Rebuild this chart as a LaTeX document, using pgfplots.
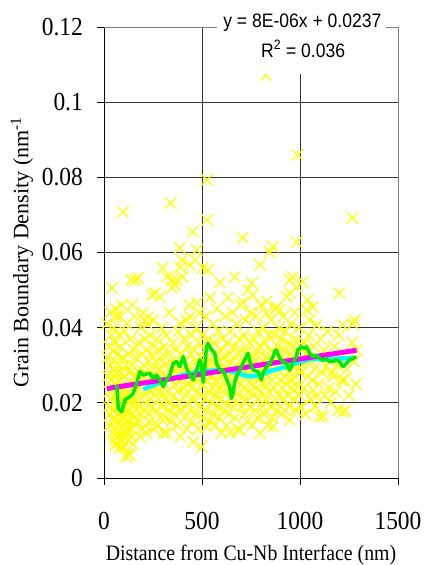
\documentclass[border=0pt]{standalone}
\usepackage{graphicx}
\usepackage{pgfplots}
\pgfplotsset{compat=1.18}
\usepackage{fontspec}
\setmainfont{Liberation Serif}[FakeStretch=0.9]
\newfontfamily\ylabfont{Liberation Serif}
\newfontfamily\eqfont{Liberation Sans}[FakeStretch=0.9]
\definecolor{ptyellow}{RGB}{255,255,0}
\definecolor{ptmag}{RGB}{255,0,255}
\definecolor{ptcyan}{RGB}{0,255,255}
\definecolor{ptgreen}{RGB}{0,235,0}
\begin{document}
\begin{tikzpicture}
\begin{axis}[
  at={(0pt,0pt)}, anchor=south west,
  scale only axis, width=294pt, height=451pt,
  xmin=0, xmax=1500, ymin=0, ymax=0.12,
  xtick={0,500,1000,1500},
  ytick={0,0.02,0.04,0.06,0.08,0.1,0.12},
  axis lines*=left,
  axis line style={black, line width=0.9pt},
  tick align=outside, major tick length=7pt,
  tick style={black, line width=0.9pt},
  grid=major, grid style={black!80, line width=0.9pt},
  scaled y ticks=false,
  /pgf/number format/assume math mode=true,
  /pgf/number format/1000 sep={},
  yticklabel style={/pgf/number format/fixed, /pgf/number format/precision=2, inner sep=0pt, anchor=east, xshift=-14pt},
  xticklabel style={inner sep=0pt, anchor=north, yshift=-27pt},
  ticklabel style={font=\fontsize{26}{26}\selectfont},
  xlabel={Distance from Cu-Nb Interface (nm)},
  xlabel style={font=\fontsize{22}{22}\selectfont, at={(axis description cs:0.5,-0.1840)}, anchor=base, inner sep=0pt},
  ylabel={Grain Boundary Density (nm\textsuperscript{-1}},
  ylabel style={font=\ylabfont\fontsize{22}{22}\selectfont, at={(axis description cs:-0.279,0.5)}, anchor=center, inner sep=0pt},
  clip=false,
  clip marker paths=true,
]
\draw[black!50, line width=0.9pt] (rel axis cs:0,1) -- (rel axis cs:1,1) -- (rel axis cs:1,0);
\addplot[only marks, mark=x, mark size=8pt, mark options={draw=ptyellow, line width=1.25pt}] coordinates {
(15,0.041) (18,0.032) (20,0.027) (22,0.019) (25,0.035) (27,0.023) (28,0.014) (30,0.030) (32,0.044) (33,0.017)
(35,0.026) (37,0.038) (38,0.021) (40,0.0506) (42,0.012) (43,0.029) (45,0.034) (47,0.024) (48,0.016) (50,0.040)
(52,0.027) (53,0.010) (55,0.031) (56,0.0088) (57,0.020) (58,0.036) (60,0.045)
(44,0.018) (51,0.022) (59,0.015) (61,0.025) (67,0.012) (72,0.020) (78,0.024) (84,0.010) (93,0.016) (99,0.019)
(102,0.011) (108,0.024) (113,0.015) (119,0.021) (125,0.010) (131,0.018) (137,0.013) (144,0.021) (152,0.016) (160,0.023)
(62,0.013) (63,0.028) (65,0.043) (66,0.009) (68,0.022) (70,0.033) (71,0.017) (73,0.026) (74,0.011) (76,0.038)
(77,0.019) (79,0.030) (80,0.008) (82,0.0428) (83,0.015) (85,0.035) (86,0.021) (88,0.012) (89,0.028) (91,0.046)
(92,0.018) (94,0.010) (95,0.032) (97,0.0708) (98,0.023) (100,0.0083) (101,0.014) (103,0.027) (104,0.039) (106,0.016)
(107,0.021) (109,0.012) (110,0.030)
(112,0.0056) (114,0.018) (116,0.025) (118,0.041) (120,0.013) (122,0.0065) (124,0.033) (126,0.020) (128,0.015) (130,0.028)
(132,0.0061) (134,0.037) (136,0.022) (138,0.0527) (139,0.011) (141,0.030) (143,0.046) (145,0.017) (147,0.024) (149,0.009)
(151,0.034) (153,0.019) (155,0.043) (157,0.027) (158,0.0527) (159,0.014)
(162,0.021) (165,0.032) (168,0.015) (170,0.027) (173,0.0532) (175,0.019) (178,0.036) (180,0.024) (182,0.011) (185,0.029)
(187,0.040) (189,0.017) (192,0.026) (194,0.033) (196,0.013) (199,0.0439) (201,0.022) (203,0.030) (205,0.018) (207,0.037)
(209,0.042) (210,0.014)
(212,0.028) (214,0.020) (216,0.034) (218,0.012) (220,0.026) (222,0.041) (224,0.0428) (226,0.017) (228,0.031) (230,0.023)
(233,0.038) (235,0.015) (237,0.027) (240,0.021) (242,0.033) (245,0.0487) (247,0.019) (249,0.029) (250,0.042) (252,0.024)
(255,0.013) (257,0.035) (259,0.022)
(260,0.0492) (262,0.027) (264,0.018) (267,0.031) (269,0.024) (271,0.037) (273,0.014) (276,0.029) (278,0.021) (280,0.034)
(283,0.026) (285,0.0482) (287,0.016) (290,0.032) (292,0.023) (294,0.040) (297,0.019) (300,0.0559) (302,0.028) (304,0.012)
(306,0.035) (308,0.025)
(311,0.021) (313,0.030) (315,0.016) (318,0.038) (320,0.012) (321,0.0535) (323,0.027) (326,0.023) (328,0.033) (330,0.018)
(333,0.044) (335,0.026) (337,0.020) (339,0.031) (341,0.0731) (343,0.015) (346,0.0527) (347,0.0506) (349,0.028) (352,0.036)
(354,0.022) (357,0.030) (359,0.017)
(362,0.0514) (364,0.025) (366,0.019) (368,0.034) (370,0.028) (372,0.0527) (374,0.014) (377,0.023) (379,0.039) (381,0.030)
(384,0.020) (387,0.0612) (388,0.0561) (389,0.0412) (390,0.011) (392,0.026) (395,0.033) (397,0.058) (399,0.018) (402,0.0535)
(404,0.029) (406,0.024) (408,0.037)
(411,0.016) (413,0.031) (416,0.022) (418,0.042) (420,0.027) (423,0.013) (425,0.035) (427,0.020) (430,0.030) (432,0.025)
(435,0.046) (438,0.0567) (439,0.0428) (441,0.018) (443,0.033) (446,0.024) (448,0.038) (450,0.015) (453,0.0655) (455,0.0096)
(457,0.028) (459,0.021)
(462,0.034) (464,0.058) (466,0.026) (468,0.017) (470,0.031) (472,0.040) (474,0.0607) (475,0.0466) (477,0.023) (480,0.013)
(482,0.029) (484,0.036) (487,0.019) (489,0.0439) (491,0.027) (493,0.032) (496,0.022) (498,0.0083) (500,0.038) (502,0.025)
(504,0.0559) (506,0.016) (508,0.030)
(511,0.034) (513,0.021) (516,0.028) (518,0.043) (520,0.018) (522,0.032) (524,0.0136) (525,0.0793) (526,0.0687) (528,0.026)
(530,0.0553) (532,0.037) (535,0.023) (537,0.030) (539,0.015) (542,0.048) (544,0.027) (546,0.035) (549,0.020) (551,0.031)
(554,0.024) (556,0.041) (558,0.017)
(561,0.029) (563,0.036) (566,0.022) (568,0.014) (570,0.033) (573,0.026) (575,0.045) (577,0.019) (580,0.031) (582,0.024)
(585,0.039) (587,0.016) (590,0.028) (592,0.052) (594,0.021) (597,0.034) (599,0.012) (601,0.027) (604,0.037) (606,0.023)
(608,0.030)
(611,0.018) (613,0.032) (616,0.025) (618,0.043) (620,0.020) (623,0.029) (625,0.014) (628,0.036) (630,0.023) (632,0.048)
(635,0.027) (637,0.017) (640,0.033) (642,0.012) (645,0.039) (647,0.025) (650,0.021) (652,0.031) (655,0.044) (657,0.019)
(659,0.028)
(662,0.035) (664,0.023) (667,0.0535) (669,0.016) (671,0.030) (674,0.026) (676,0.041) (678,0.020) (681,0.033) (683,0.013)
(686,0.028) (688,0.037) (690,0.022) (693,0.0128) (695,0.031) (697,0.046) (699,0.025) (702,0.019) (704,0.034) (706,0.029)
(708,0.0639) (709,0.0468)
(712,0.024) (714,0.038) (717,0.017) (719,0.031) (721,0.027) (724,0.042) (726,0.021) (729,0.034) (731,0.015) (734,0.050)
(736,0.028) (738,0.023) (741,0.036) (743,0.019) (746,0.030) (748,0.044) (751,0.025) (754,0.0519) (756,0.014) (759,0.0487)
(760,0.032)
(762,0.022) (765,0.037) (767,0.027) (770,0.018) (772,0.033) (775,0.043) (777,0.024) (780,0.030) (782,0.016) (785,0.039)
(787,0.026) (790,0.021) (792,0.035) (795,0.0567) (796,0.012) (798,0.029) (801,0.046) (803,0.023) (806,0.033) (808,0.019)
(811,0.031) (813,0.040) (816,0.025) (818,0.017) (821,0.036) (823,0.028) (825,0.1072) (826,0.021) (828,0.047) (830,0.0439)
(832,0.032) (835,0.014) (837,0.027) (840,0.038) (842,0.023) (844,0.030) (846,0.0601) (848,0.019) (851,0.034) (853,0.042)
(856,0.026) (858,0.016)
(861,0.0615) (862,0.0136) (864,0.031) (866,0.024) (869,0.038) (871,0.020) (874,0.033) (876,0.045) (879,0.027) (881,0.0455)
(883,0.018) (886,0.035) (888,0.029) (891,0.022) (893,0.040) (897,0.0447) (899,0.026) (901,0.032) (904,0.017) (906,0.037)
(909,0.024)
(911,0.030) (914,0.043) (916,0.021) (919,0.034) (921,0.027) (924,0.018) (926,0.039) (929,0.025) (932,0.0482) (934,0.031)
(937,0.022) (939,0.036) (942,0.028) (945,0.019) (947,0.0154) (948,0.0527) (949,0.0492) (951,0.033) (953,0.041) (956,0.024)
(958,0.030)
(961,0.026) (963,0.0535) (965,0.035) (968,0.021) (970,0.031) (973,0.044) (975,0.027) (978,0.018) (980,0.037) (983,0.0628)
(984,0.0508) (986,0.024) (988,0.0860) (990,0.033) (992,0.029) (995,0.040) (997,0.022) (1000,0.035) (1003,0.028) (1006,0.019)
(1008,0.032)
(1014,0.0522) (1016,0.030) (1020,0.024) (1024,0.036) (1028,0.017) (1032,0.033) (1034,0.0447) (1039,0.0474) (1042,0.027) (1046,0.038)
(1049,0.042) (1053,0.021) (1057,0.031)
(1062,0.026) (1065,0.0455) (1066,0.0234) (1070,0.035) (1074,0.029) (1078,0.019) (1083,0.0216) (1085,0.0407) (1090,0.032) (1095,0.025)
(1100,0.0163) (1105,0.037)
(1115,0.028) (1117,0.0165) (1122,0.034) (1128,0.022) (1134,0.0296) (1140,0.039) (1146,0.024) (1151,0.031) (1157,0.020)
(1163,0.028) (1168,0.027) (1175,0.035) (1182,0.023) (1190,0.030) (1193,0.018) (1198,0.038) (1202,0.0492)
(1213,0.026) (1218,0.0407) (1219,0.0176) (1224,0.033) (1227,0.026) (1230,0.018) (1238,0.029) (1250,0.022)
(1265,0.036) (1268,0.0692) (1270,0.041) (1275,0.031) (1279,0.042) (1285,0.025) (1289,0.034)
};
\addplot[ptcyan, line width=4.5pt, no marks] coordinates {
(200,0.0236) (251,0.0247) (319,0.0261) (404,0.0274) (489,0.0283) (574,0.0287) (659,0.0283) (709,0.0274)
(744,0.0270) (795,0.0274) (862,0.0287) (930,0.0296) (998,0.0309) (1066,0.0318) (1134,0.0314) (1202,0.0318) (1270,0.0318)
};
\addplot[ptmag, line width=5pt, no marks] coordinates {(15,0.0238) (1289,0.0340)};
\addplot[ptgreen, line width=3.5pt, no marks, line join=round] coordinates {
(65,0.0247) (73,0.0185) (90,0.0176) (107,0.0208) (132,0.0216) (149,0.0225) (167,0.0252) (183,0.0283)
(200,0.0274) (234,0.0279) (251,0.0265) (268,0.0274) (285,0.0261) (302,0.0243) (319,0.0261) (336,0.0274)
(353,0.0305) (370,0.0310) (387,0.0296) (404,0.0323) (421,0.0292) (438,0.0274) (455,0.0261) (472,0.0287)
(489,0.0314) (497,0.0300) (506,0.0255) (515,0.0300) (523,0.0349) (531,0.0358) (548,0.0341) (565,0.0332)
(574,0.0305) (591,0.0287) (607,0.0287) (624,0.0265) (641,0.0243) (650,0.0212) (658,0.0225) (667,0.0256)
(676,0.0270) (693,0.0287) (709,0.0305) (726,0.0323) (735,0.0332) (744,0.0310) (761,0.0287) (786,0.0283)
(803,0.0261) (811,0.0279) (829,0.0296) (846,0.0305) (862,0.0323) (871,0.0336) (879,0.0341) (897,0.0318)
(913,0.0310) (930,0.0305) (947,0.0287) (964,0.0305) (981,0.0323) (989,0.0341) (1006,0.0349) (1023,0.0345)
(1032,0.0349) (1049,0.0332) (1066,0.0323) (1083,0.0327) (1100,0.0318) (1117,0.0314) (1134,0.0318) (1151,0.0310)
(1168,0.0310) (1185,0.0314) (1202,0.0310) (1219,0.0296) (1236,0.0305) (1253,0.0314) (1270,0.0318) (1287,0.0323)
};
\fill[white] (axis cs:576,0.1075) rectangle (axis cs:1437,0.1265);
\node[anchor=base, inner sep=0pt, font=\eqfont\fontsize{19.5}{19.5}\selectfont] at (axis cs:1012,0.11975) {y = 8E-06x + 0.0237};
\node[anchor=base, inner sep=0pt, font=\eqfont\fontsize{19.5}{19.5}\selectfont] at (axis cs:1016,0.1120) {R\textsuperscript{2} = 0.036};
\end{axis}
\pgfresetboundingbox
\path (-104pt,-87pt) rectangle (321pt,478pt);
\end{tikzpicture}
\end{document}
